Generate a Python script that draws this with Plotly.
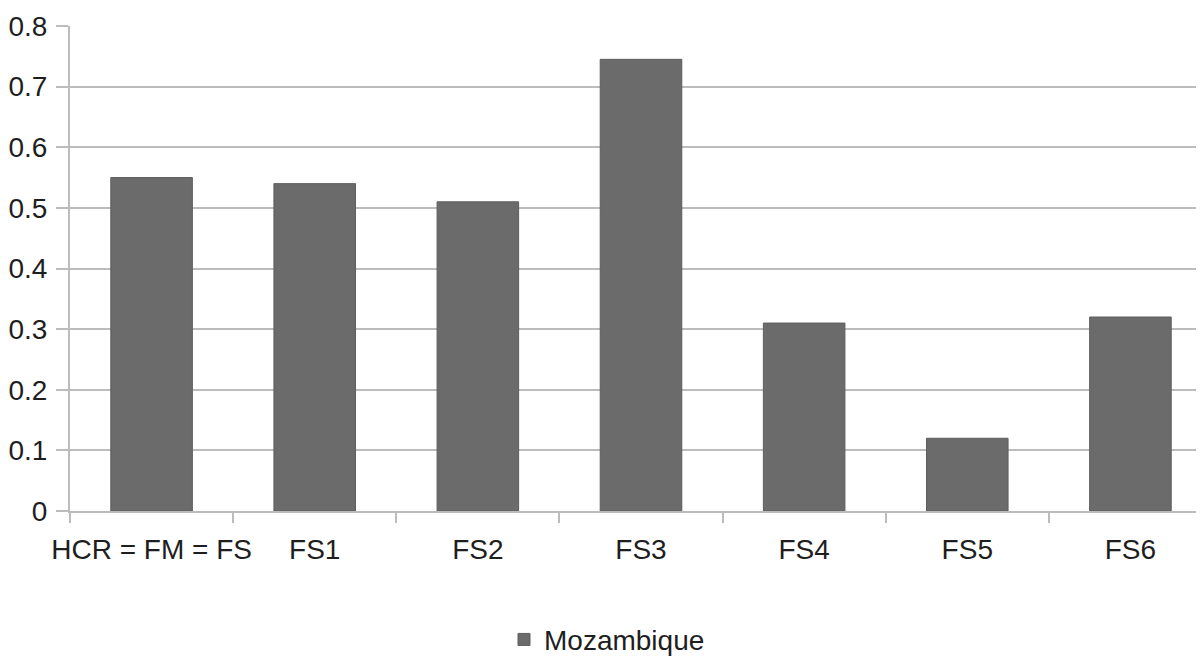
import plotly.graph_objects as go

categories = ["HCR = FM = FS", "FS1", "FS2", "FS3", "FS4", "FS5", "FS6"]
values = [0.55, 0.54, 0.51, 0.745, 0.31, 0.12, 0.32]
series_name = "Mozambique"
y_ticks = [0, 0.1, 0.2, 0.3, 0.4, 0.5, 0.6, 0.7, 0.8]
y_tick_text = ["0", "0.1", "0.2", "0.3", "0.4", "0.5", "0.6", "0.7", "0.8"]

FONT = "Liberation Sans, Arial, sans-serif"
GRID = "#bcbcbc"
BAR = "#6b6b6b"

fig = go.Figure()
fig.add_trace(go.Bar(
    x=categories, y=values, name=series_name,
    marker=dict(color=BAR, line=dict(color="#5e5e5e", width=1)),
    width=0.5, showlegend=True,
))

fig.update_layout(
    width=1204, height=656,
    margin=dict(l=62, r=0, t=18, b=153, autoexpand=False),
    paper_bgcolor="white", plot_bgcolor="white",
    font=dict(family=FONT, size=28, color="#1e1e1e"),
    showlegend=True,
    legend=dict(orientation="h", xref="container", yref="container",
                x=0.4975, xanchor="center", y=0.037, yanchor="middle",
                font=dict(size=28), itemwidth=30, bgcolor="rgba(0,0,0,0)"),
    bargap=0.5,
)
fig.update_xaxes(
    type="category", range=[-0.5, 6.5], automargin=False,
    showgrid=False, showline=True, linecolor=GRID, linewidth=2,
    ticks="outside", tickson="boundaries", ticklen=10, tickwidth=2, tickcolor=GRID,
    tickfont=dict(size=28), tickangle=0, ticklabelstandoff=12,
)
fig.update_yaxes(
    range=[0, 0.8], tickvals=y_ticks, ticktext=y_tick_text, automargin=False,
    showgrid=True, gridcolor=GRID, gridwidth=2,
    showline=True, linecolor=GRID, linewidth=2,
    ticks="outside", ticklen=12, tickwidth=2, tickcolor=GRID,
    zeroline=False, tickfont=dict(size=28), ticklabelstandoff=3,
)

fig.write_html("out.html")
